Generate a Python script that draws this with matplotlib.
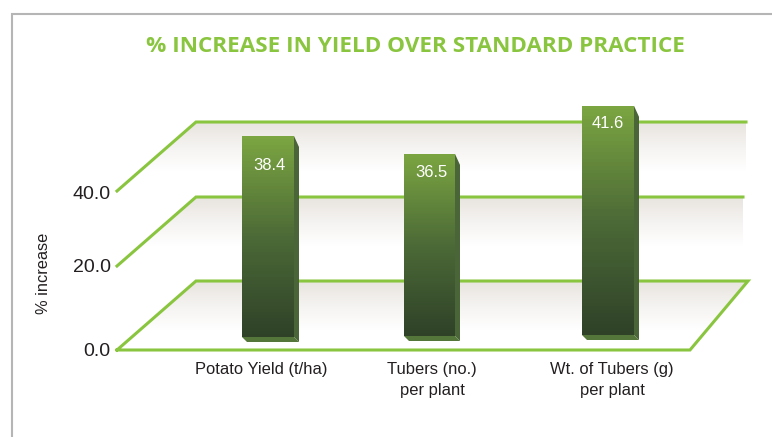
import numpy as np
import matplotlib
matplotlib.use('Agg')
import matplotlib.pyplot as plt
from matplotlib.colors import LinearSegmentedColormap
from matplotlib.patches import Polygon

categories = ['Potato Yield (t/ha)', 'Tubers (no.)\nper plant', 'Wt. of Tubers (g)\nper plant']
values = [38.4, 36.5, 41.6]
y_ticks = ['0.0', '20.0', '40.0']
title = '% INCREASE IN YIELD OVER STANDARD PRACTICE'
y_label = '% increase'

W, H = 772, 437
GREEN = '#8ac53f'
TEXT = '#231f20'
PX_PER_UNIT = 9.43  # bars in the picture do not start at zero

# layout, in picture pixels
bar_left = [242, 404, 582]
bar_base_px = [337, 336, 335]
bar_w = [52, 51, 52]
label_px = [(269, 165.5), (431, 172.5), (608, 123.5)]
cat_x = [261, 432, 612]
tick_y = [352, 268, 194.5]
floor_back = [281, 197, 122]
floor_front = [350, 266, 191]
floor_right = [748, 743, 746]


def px_to_val(py):
    return 38.4 - (py - 136) / PX_PER_UNIT


fig = plt.figure(figsize=(W / 100, H / 100), dpi=100)
plt.rcParams['font.family'] = ['Liberation Sans', 'DejaVu Sans']

ax = fig.add_axes([0, 0, 1, 1])
ax.set_xlim(0, W)
ax.set_ylim(H, 0)
ax.axis('off')

# frame
ax.plot([11.5, 11.5, W], [H, 13.5, 13.5], color='#b5b5b5', lw=1.5, solid_joinstyle='miter')

# floors, the lowest one is closed at the front
floor_cmap = LinearSegmentedColormap.from_list('floor', ['#e8e4df', '#f5f3f1', '#ffffff'])
grad = np.linspace(0, 1, 64).reshape(-1, 1)
for i in range(3):
    back = floor_back[i]
    front = floor_front[i]
    right = floor_right[i]
    if i == 0:
        pts = [(117, front), (196, back), (right, back), (690, front)]
    else:
        pts = [(117, front), (196, back), (right, back), (right, front)]
    clip = Polygon(pts, closed=True, transform=ax.transData, fc='none', ec='none')
    ax.add_patch(clip)
    im = ax.imshow(grad, cmap=floor_cmap, aspect='auto', zorder=1,
                   extent=(117, right, back + 49, back))
    im.set_clip_path(clip)
    if i == 0:
        ax.plot([117, 196, right, 690, 117], [front, back, back, front, front],
                color=GREEN, lw=2.2, zorder=2, solid_joinstyle='miter')
    else:
        ax.plot([117, 196, right], [front, back, back], color=GREEN, lw=2.2, zorder=2,
                solid_joinstyle='miter')
ax.set_xlim(0, W)
ax.set_ylim(H, 0)

ax.text(415.5, 46, title, color=GREEN, fontsize=16.2, fontweight='bold', family='Open Sans',
        ha='center', va='center')
for lab, py in zip(y_ticks, tick_y):
    ax.text(110.5, py, lab, color=TEXT, fontsize=14, ha='right', va='center')
ax.text(43.5, 273, y_label, color=TEXT, fontsize=11.8, rotation=90, ha='center', va='center')
for lab, cx in zip(categories, cat_x):
    ax.text(cx, 362, lab, color=TEXT, fontsize=11.9, ha='center', va='top', linespacing=1.5)

# bars, on a value axis laid over the picture
bx = fig.add_axes([0, 0, 1, 1])
bx.patch.set_alpha(0)
bx.axis('off')
bar_cmap = LinearSegmentedColormap.from_list('bar', ['#7ba541', '#4c6a37', '#2f4228'])
for i, v in enumerate(values):
    base = px_to_val(bar_base_px[i])
    x0 = bar_left[i]
    x1 = x0 + bar_w[i]
    d = 5
    dv = d / PX_PER_UNIT
    # side and bottom faces
    bx.add_patch(Polygon([(x1, v), (x1 + d, v - 2.2 * dv), (x1 + d, base - dv), (x1, base)],
                         fc='#4a6538', ec='none', zorder=2))
    bx.add_patch(Polygon([(x0, base), (x0 + d, base - dv), (x1 + d, base - dv), (x1, base)],
                         fc='#55763b', ec='none', zorder=2))
    bar = bx.bar(x0, v - base, bar_w[i], bottom=base, align='edge', fc='none', ec='none', zorder=3)[0]
    im = bx.imshow(grad, cmap=bar_cmap, aspect='auto', zorder=3, extent=(x0, x1, base, v))
    im.set_clip_path(bar)
    bx.text(label_px[i][0], px_to_val(label_px[i][1]), f'{v:.1f}', color='white', fontsize=12,
            ha='center', va='center', zorder=4)
bx.set_xlim(0, W)
bx.set_ylim(px_to_val(H), px_to_val(0))

fig.savefig('out.png', dpi=100)
